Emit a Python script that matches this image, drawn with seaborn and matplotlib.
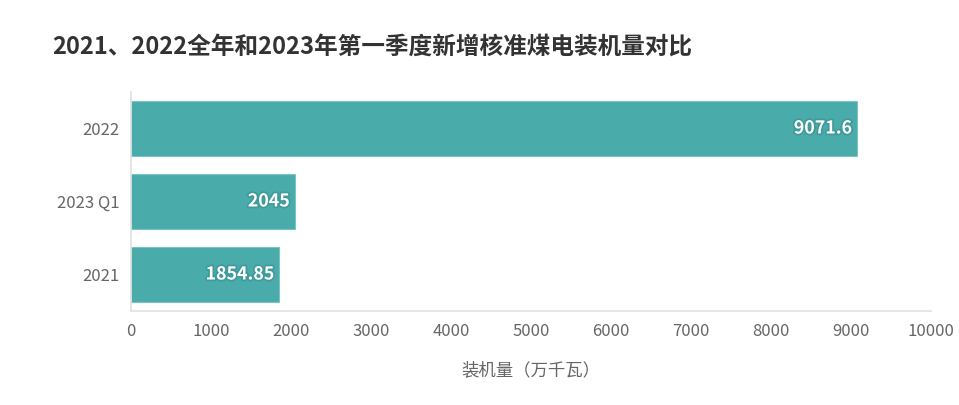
import matplotlib
matplotlib.use('Agg')
import matplotlib.pyplot as plt
import matplotlib.patheffects as pe
import seaborn as sns
import pandas as pd

# Dados do gráfico
categorias = ['2022', '2023 Q1', '2021']
valores = [9071.6, 2045, 1854.85]
rotulos = ['9071.6', '2045', '1854.85']
xticks = [0, 1000, 2000, 3000, 4000, 5000, 6000, 7000, 8000, 9000, 10000]

sns.set_theme(style='white')
plt.rcParams['font.family'] = ['Noto Sans CJK SC', 'DejaVu Sans']

df = pd.DataFrame({'categoria': categorias, 'valor': valores})

fig = plt.figure(figsize=(9.59, 4.05), dpi=100)
ax = fig.add_axes([131 / 959, 94 / 405, 800 / 959, 219 / 405])

ax.grid(axis='y', color='#ebebeb', linewidth=1.2, zorder=0)
ax.set_axisbelow(True)

sns.barplot(data=df, x='valor', y='categoria', order=categorias, color='#4aabab',
            saturation=1, width=0.74, edgecolor='#7cc4c4', linewidth=0.8, ax=ax, zorder=2)

for barra, texto in zip(ax.patches, rotulos):
    ax.text(barra.get_width() - 60, barra.get_y() + barra.get_height() / 2, texto,
            ha='right', va='center', color='white', fontsize=12.8, fontweight='bold',
            path_effects=[pe.withStroke(linewidth=2.5, foreground='#3f9a9a')], zorder=3)

ax.set_xlim(0, 10000)
ax.set_xticks(xticks)
ax.set_xticklabels([str(t) for t in xticks], fontsize=12, color='#666666')
ax.tick_params(axis='y', labelsize=12, labelcolor='#666666', length=6, color='#e0e0e0', width=1, pad=2)
ax.tick_params(axis='x', length=6, color='#e0e0e0', width=1, pad=3)
ax.set_ylabel('')
ax.set_xlabel('装机量（万千瓦）', fontsize=12.5, color='#666666', labelpad=15)

for lado in ['top', 'right']:
    ax.spines[lado].set_visible(False)
for lado in ['left', 'bottom']:
    ax.spines[lado].set_color('#e0e0e0')
    ax.spines[lado].set_linewidth(1.2)

fig.text(52 / 959, 1 - 47 / 405, '2021、2022全年和2023年第一季度新增核准煤电装机量对比',
         fontsize=17, fontweight='bold', color='#333333', va='center', ha='left')

plt.savefig('out.png', dpi=100)
